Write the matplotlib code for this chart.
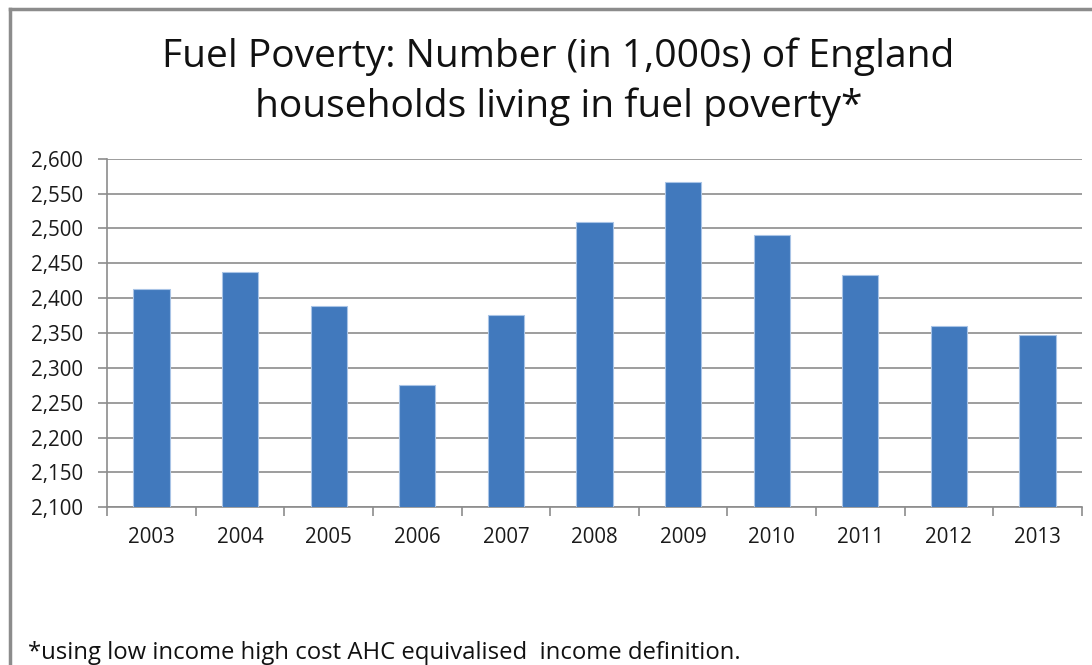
import matplotlib
matplotlib.use("Agg")
from matplotlib import pyplot as plt
from matplotlib.ticker import FuncFormatter
from matplotlib.lines import Line2D

plt.rcParams['font.family'] = ['Open Sans', 'DejaVu Sans']

years = ["2003", "2004", "2005", "2006", "2007", "2008",
         "2009", "2010", "2011", "2012", "2013"]
households = [2413, 2437, 2389, 2275, 2376, 2509, 2567, 2490, 2433, 2360, 2347]
y_ticks = list(range(2100, 2601, 50))

title_lines = ["Fuel Poverty: Number (in 1,000s) of England",
               "households living in fuel poverty*"]
footnote = "*using low income high cost AHC equivalised  income definition."

W, H = 1092, 665
fig = plt.figure(figsize=(W / 100, H / 100), dpi=100)
ax = fig.add_axes([107.3 / W, 1 - 507.3 / H, (1081.7 - 107.3) / W, (507.3 - 158.7) / H])

x = range(len(years))
ax.bar(x, households, width=0.41, color="#4179bd", edgecolor="#a9c4e6",
       linewidth=0.8, zorder=3)

ax.set_xlim(-0.5, len(years) - 0.5)
ax.set_ylim(2100, 2600)
ax.set_yticks(y_ticks)
ax.yaxis.set_major_formatter(FuncFormatter(lambda v, p: f"{int(v):,}"))
ax.set_xticks(x)
ax.set_xticklabels(years)
ax.set_xticks([i - 0.5 for i in range(len(years) + 1)], minor=True)

ax.grid(axis="y", color="#8c8c8c", linewidth=1.2, zorder=0)
for side in ["top", "right"]:
    ax.spines[side].set_visible(False)
ax.spines["left"].set_color("#8c8c8c")
ax.spines["bottom"].set_color("#8c8c8c")
ax.spines["left"].set_linewidth(1.2)
ax.spines["bottom"].set_linewidth(1.2)

ax.tick_params(axis="y", length=6.2, color="#8c8c8c", width=1.2,
               labelsize=14.8, pad=11.5, labelcolor="#1a1a1a")
ax.tick_params(axis="x", which="major", length=0, labelsize=14.8,
               pad=14, labelcolor="#1a1a1a")
ax.tick_params(axis="x", which="minor", length=6.2, color="#8c8c8c", width=1.2)

fig.text(558.5 / W, 1 - 66.7 / H, title_lines[0], ha="center", va="baseline",
         fontsize=28.1, color="#111111")
fig.text(559 / W, 1 - 117 / H, title_lines[1], ha="center", va="baseline",
         fontsize=28.1, color="#111111")
fig.text(28 / W, 1 - 659 / H, footnote, ha="left", va="baseline",
         fontsize=17.2, color="#111111")

# chart frame (top and left edges visible)
fig.add_artist(Line2D([10 / W, 10 / W], [0, 1 - 9 / H],
                      transform=fig.transFigure, color="#8c8c8c", linewidth=2.5))
fig.add_artist(Line2D([10 / W, 1090 / W], [1 - 9 / H, 1 - 9 / H],
                      transform=fig.transFigure, color="#8c8c8c", linewidth=2.5))

fig.savefig("out.png", dpi=100)
